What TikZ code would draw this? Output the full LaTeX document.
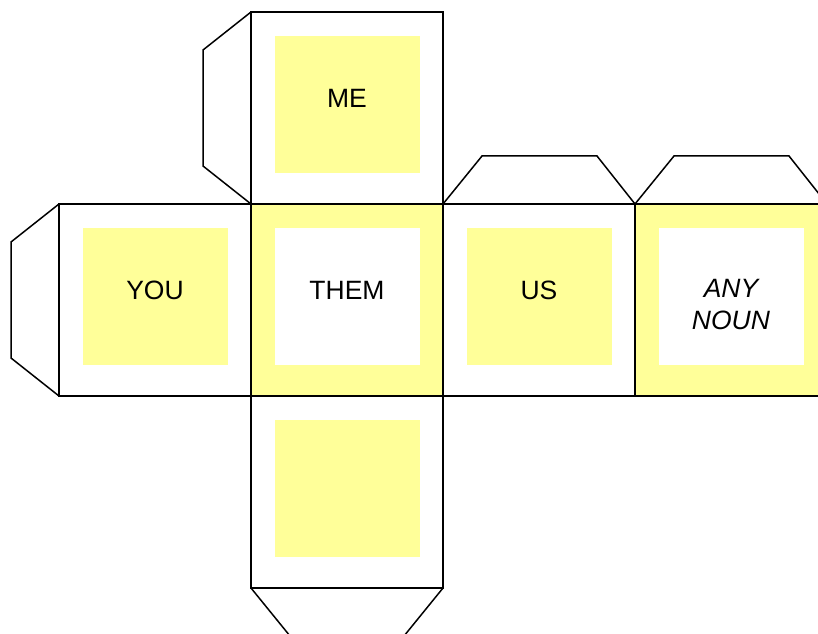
\documentclass[tikz,border=0pt]{standalone}
\usepackage{fontspec}
\setmainfont{Liberation Sans}
\usetikzlibrary{positioning}
\definecolor{paleyellow}{HTML}{FFFF99}
\tikzset{
  face/.style={draw, line width=1.5pt, minimum size=192pt, inner sep=0pt, outer sep=0pt},
  inbox/.style={minimum width=145pt, minimum height=137pt, inner sep=0pt, outer sep=0pt},
  flap/.style={draw, line width=1.5pt, line join=miter},
  word/.style={font=\fontsize{26.5}{32}\selectfont, align=center}
}
\begin{document}
\begin{tikzpicture}[x=1pt, y=1pt, node distance=192pt]
    \useasboundingbox (0,0) rectangle (818,633);
    \clip (0,0) rectangle (818,633);

    % faces of the net
    \node[face, fill=paleyellow] (them) at (347,333) {};
    \node[face, fill=white] (me) [above of=them] {};
    \node[face, fill=white] (you) [left of=them] {};
    \node[face, fill=white] (us) [right of=them] {};
    \node[face, fill=paleyellow] (any) [right of=us] {};
    \node[face, fill=white] (bottom) [below of=them] {};

    % inner squares
    \node[inbox, fill=paleyellow] (me-in) at ([yshift=3.5pt]me.center) {};
    \node[inbox, fill=paleyellow] (you-in) at ([yshift=3.5pt]you.center) {};
    \node[inbox, fill=white] (them-in) at ([yshift=3.5pt]them.center) {};
    \node[inbox, fill=paleyellow] (us-in) at ([yshift=3.5pt]us.center) {};
    \node[inbox, fill=white] (any-in) at ([yshift=3.5pt]any.center) {};
    \node[inbox, fill=paleyellow] (bottom-in) at ([yshift=3.5pt]bottom.center) {};

    % words
    \node[word] (me-txt) at ([yshift=10pt]me.center) {ME};
    \node[word] (you-txt) at ([yshift=10pt]you.center) {YOU};
    \node[word] (them-txt) at ([yshift=10pt]them.center) {THEM};
    \node[word] (us-txt) at ([yshift=10pt]us.center) {US};
    \node[word, font=\fontsize{26.5}{32}\selectfont\itshape] (any-txt) at ([yshift=-5pt]any.center) {ANY\\NOUN};

    % glue flaps
    \draw[flap] (me.north west) -- ++(-48,-38) -- ++(0,-116) -- (me.south west);
    \draw[flap] (you.north west) -- ++(-48,-38) -- ++(0,-116) -- (you.south west);
    \draw[flap] (us.north west) -- ++(39,48) -- ++(115,0) -- (us.north east);
    \draw[flap] (any.north west) -- ++(39,48) -- ++(115,0) -- (any.north east);
    \draw[flap] (bottom.south west) -- ++(39,-48) -- ++(114,0) -- (bottom.south east);
  \end{tikzpicture}
\end{document}
